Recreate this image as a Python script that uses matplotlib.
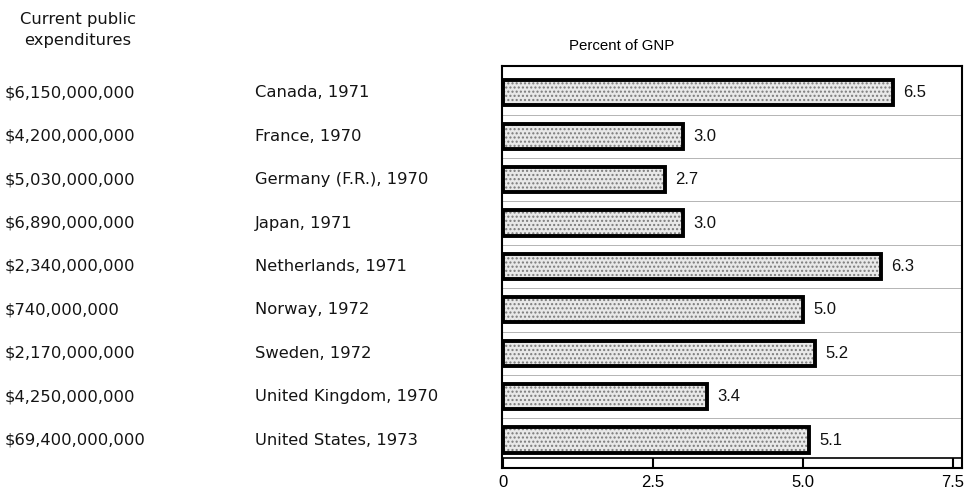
import matplotlib
matplotlib.use("Agg")
import matplotlib.pyplot as plt
from matplotlib.transforms import blended_transform_factory

plt.rcParams['font.family'] = ['Liberation Sans', 'DejaVu Sans']

countries = ["Canada, 1971", "France, 1970", "Germany (F.R.), 1970", "Japan, 1971",
             "Netherlands, 1971", "Norway, 1972", "Sweden, 1972",
             "United Kingdom, 1970", "United States, 1973"]
expenditures = ["$6,150,000,000", "$4,200,000,000", "$5,030,000,000", "$6,890,000,000",
                "$2,340,000,000", "$740,000,000", "$2,170,000,000", "$4,250,000,000",
                "$69,400,000,000"]
pct_gnp = [6.5, 3.0, 2.7, 3.0, 6.3, 5.0, 5.2, 3.4, 5.1]
xticks = [0, 2.5, 5.0, 7.5]
xtick_labels = ["0", "2.5", "5.0", "7.5"]

W, H = 969, 495
fig = plt.figure(figsize=(W / 100, H / 100), dpi=100)
ax = fig.add_axes([502 / W, 1 - 468 / H, 460 / W, 402 / H])

y = list(range(len(countries)))
bar_h = 0.58
row_font = dict(family=['DejaVu Sans'], fontsize=11.8, color="#141414")

# stippled fill, then a heavy black outline on top
ax.barh(y, pct_gnp, height=bar_h, left=0, color="#e8e8e8", edgecolor="#7a7a7a",
        hatch="....", linewidth=0, zorder=2)
ax.barh(y, pct_gnp, height=bar_h, left=0, facecolor="none", edgecolor="black",
        linewidth=2.8, zorder=3)

# faint row separators
for i in range(len(countries) - 1):
    ax.axhline(i + 0.5, color="#a8a8a8", lw=0.6, zorder=1)

# value labels at bar ends
for yi, v in zip(y, pct_gnp):
    ax.text(v + 0.17, yi, f"{v:.1f}", va="center", ha="left", fontsize=12, color="#111111")

ax.set_xlim(-0.017, 7.65)
ax.set_ylim(8.645, -0.62)
ax.set_yticks([])
ax.set_xticks(xticks)
ax.set_xticklabels(xtick_labels, fontsize=12)
ax.tick_params(axis="x", direction="in", length=7, width=1.5, pad=5)
for s in ax.spines.values():
    s.set_linewidth(1.5)
# scale band above the bottom spine
ax.axhline(8.42, color="black", lw=1.2, zorder=4)

# title over the bars
fig.text(622 / W, 1 - 46 / H, "Percent of GNP", ha="center", va="center", fontsize=10.8)

# left-hand columns aligned to the rows
tr = blended_transform_factory(fig.transFigure, ax.transData)
fig.text(78 / W, 1 - 24 / H, "Current public", ha="center", va="baseline", **row_font)
fig.text(78 / W, 1 - 45 / H, "expenditures", ha="center", va="baseline", **row_font)
for yi, e, c in zip(y, expenditures, countries):
    fig.text(5 / W, yi, e, transform=tr, ha="left", va="center", **row_font)
    fig.text(255 / W, yi, c, transform=tr, ha="left", va="center", **row_font)

fig.savefig("out.png", dpi=100)
